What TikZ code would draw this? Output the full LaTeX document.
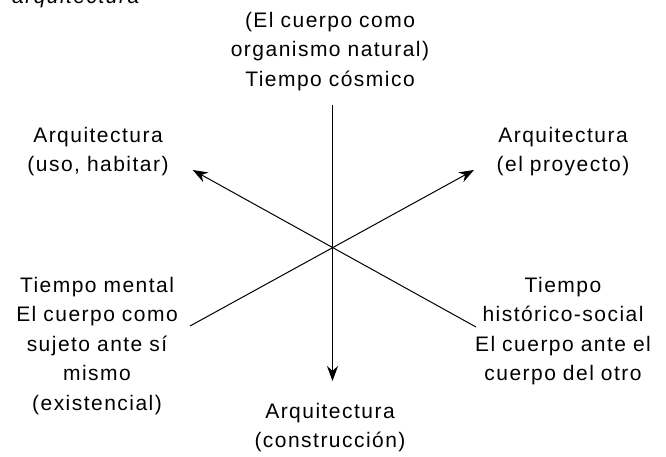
\documentclass[tikz,border=0pt]{standalone}
\usepackage{fontspec}
\setmainfont{Liberation Sans}[LetterSpace=7]
\usetikzlibrary{arrows.meta}
\tikzset{
  lbl/.style={font=\fontsize{21}{29.5}\selectfont, align=center, text width=220pt, inner sep=0pt, anchor=base},
  axis/.style={line width=1pt, black},
  tip/.style={-{Stealth[length=15pt,width=11pt]}}
}
\begin{document}
\begin{tikzpicture}[x=1pt,y=-1pt]
\useasboundingbox (0,0) rectangle (666,456);
% labels
\node[lbl] (top) at (330,27) {(El cuerpo como\\organismo natural)\\Tiempo cósmico};
\node[lbl] (ul) at (98,142) {Arquitectura\\(uso, habitar)};
\node[lbl] (ur) at (563,142) {Arquitectura\\(el proyecto)};
\node[lbl] (ll) at (97,292) {Tiempo mental\\El cuerpo como\\sujeto ante sí\\mismo\\(existencial)};
\node[lbl] (lr) at (563,292) {Tiempo\\histórico-social\\El cuerpo ante el\\cuerpo del otro};
\node[lbl] (bot) at (330,418) {Arquitectura\\(construcción)};
\node[font=\fontsize{21}{29.5}\selectfont\itshape, inner sep=0pt, anchor=base west] (cut) at (12,3) {arquitectura};
% axes
\coordinate (c) at (332.5,248);
\coordinate (vtop) at (332.5,105);
\coordinate (vbot) at (332.5,381);
\coordinate (dul) at (192.7,170);
\coordinate (dur) at (474,170);
\coordinate (dll) at (190,326);
\coordinate (dlr) at (476,327);
\draw[axis,tip] (vtop) -- (vbot);
\draw[axis,tip] (dll) -- (dur);
\draw[axis,tip] (dlr) -- (dul);
\end{tikzpicture}
\end{document}
